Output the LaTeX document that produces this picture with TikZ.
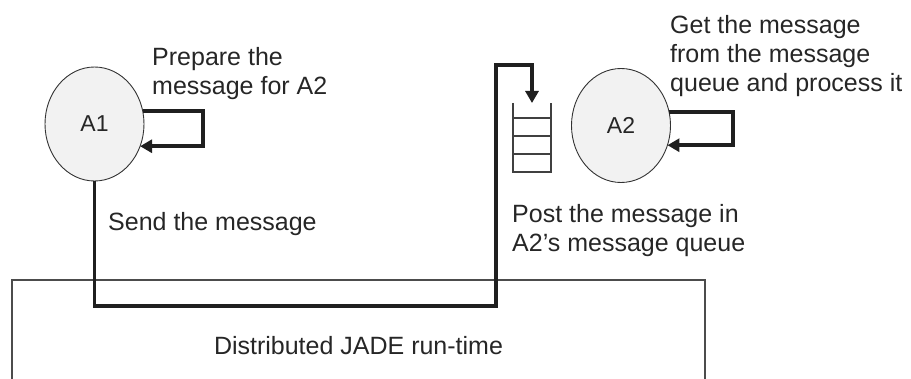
\documentclass[tikz,border=0pt]{standalone}
\usepackage{fontspec}
\setmainfont{Liberation Sans}
\usetikzlibrary{arrows.meta,shapes.geometric,calc}
\begin{document}
\begin{tikzpicture}[x=1pt,y=1pt,
  agent/.style={ellipse,draw=black!80,line width=0.9pt,fill=black!5,
    minimum width=99pt,minimum height=114pt,inner sep=0pt,outer sep=0pt,
    font=\fontsize{23}{26}\selectfont,text=black!85},
  flow/.style={line width=3.6pt,draw=black!88},
  tip/.style={-{Triangle[length=12pt,width=13pt]}},
  qline/.style={line width=1.8pt,draw=black!75},
  lbl/.style={font=\fontsize{25}{29}\selectfont,align=left,inner sep=0pt,text=black!85},
  runtime/.style={rectangle,draw=black!70,line width=1.3pt,minimum width=693pt,
    minimum height=132pt,inner sep=0pt,font=\fontsize{25}{29}\selectfont,text=black!85}]
\useasboundingbox (0,0) rectangle (911,378);

% run-time box (open at the bottom, runs past the picture's edge)
\node[runtime] (R) at (358.5,32) {Distributed JADE run-time};

% agents
\node[agent] (A1) at (94.5,254) {A1};
\node[agent] (A2) at (621,252.5) {A2};

% message queue
\node[minimum width=38pt,minimum height=69pt,inner sep=0pt,outer sep=0pt] (Q) at (532,240.5) {};
\draw[qline] (Q.north west) -- (Q.south west) -- (Q.south east) -- (Q.north east);
\foreach \d in {15,33,51}
  \draw[qline] ($(Q.north west)+(0,-\d)$) -- ($(Q.north east)+(0,-\d)$);

% loop corners and message route
\coordinate (c1) at (203,0);
\coordinate (c2) at (733,0);
\coordinate (mb) at (496,72);
\coordinate (mt) at (496,313);

% self loops
\draw[flow,tip] (A1.15) -- (A1.15 -| c1) |- (A1.-26);
\draw[flow,tip] (A2.16) -- (A2.16 -| c2) |- (A2.-23);

% message route
\draw[flow,tip] (A1.south) |- (mb) -- (mt) -| (Q.north);

% labels (base anchor = baseline of the last line)
\node[lbl,anchor=base west] (prep) at (152,283) {Prepare the\\message for A2};
\node[lbl,anchor=base west] (get) at (670,286) {Get the message\\from the message\\queue and process it};
\node[lbl,anchor=base west] (send) at (108,147) {Send the message};
\node[lbl,anchor=base west] (post) at (512,126) {Post the message in\\A2's message queue};
\end{tikzpicture}
\end{document}
